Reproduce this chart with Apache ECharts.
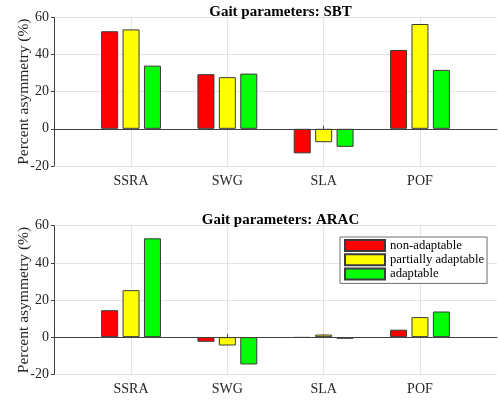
<!DOCTYPE html>
<html><head><meta charset="utf-8">
<script src="https://cdn.jsdelivr.net/npm/echarts@6/dist/echarts.min.js"></script>
<style>html,body{margin:0;padding:0;background:#fff}#c{width:498px;height:401px}</style>
</head><body><div id="c"></div>
<script>
const categories = ['SSRA', 'SWG', 'SLA', 'POF'];
const seriesNames = ['non-adaptable', 'partially adaptable', 'adaptable'];
const titles = ['Gait parameters: SBT', 'Gait parameters: ARAC'];
const yTicks = [-20, 0, 20, 40, 60];
// SBT values
const sbtNonAdaptable = [52.5, 29.4, -13.2, 42.4];
const sbtPartially = [53.5, 27.8, -7.2, 56.4];
const sbtAdaptable = [34.0, 29.7, -9.7, 31.7];
// ARAC values
const aracNonAdaptable = [14.5, -2.5, -0.3, 4.0];
const aracPartially = [25.3, -4.5, 1.4, 10.8];
const aracAdaptable = [53.2, -14.7, -0.9, 13.8];

const colors = ['#ff0000', '#ffff00', '#00ff00'];
const panels = [[sbtNonAdaptable, sbtPartially, sbtAdaptable], [aracNonAdaptable, aracPartially, aracAdaptable]];
const FONT = '"Liberation Serif", "Times New Roman", serif';
const TXT = '#262626';
const catPos = categories.map((c, i) => i + 1);

const grids = [
  { left: 54, right: 1, top: 17.3, height: 148.7, outerBoundsMode: 'none', containLabel: false },
  { left: 54, right: 1, top: 225.7, height: 148.6, outerBoundsMode: 'none', containLabel: false }
];
const xAxes = [], yAxes = [], series = [], titleArr = [];
grids.forEach((g, gi) => {
  xAxes.push({
    type: 'value', gridIndex: gi, min: 0.2, max: 4.8,
    axisLine: { show: true, lineStyle: { color: '#404040', width: 1 } },
    axisTick: { show: true, inside: true, length: 3, customValues: catPos, lineStyle: { color: '#404040' } },
    axisLabel: { customValues: catPos, formatter: v => categories[Math.round(v) - 1] || '',
      fontFamily: FONT, fontSize: 14, color: TXT, margin: 8 },
    splitLine: { show: true, lineStyle: { color: '#e3e3e3', width: 1 } }
  });
  yAxes.push({
    type: 'value', gridIndex: gi, min: yTicks[0], max: yTicks[yTicks.length - 1], interval: 20,
    name: 'Percent asymmetry (%)', nameLocation: 'middle', nameGap: 22, nameMoveOverlap: false,
    nameTextStyle: { fontFamily: FONT, fontSize: 15.5, color: TXT },
    axisLine: { show: true, lineStyle: { color: '#404040', width: 1 } },
    axisTick: { show: true, length: 3, lineStyle: { color: '#404040' } },
    axisLabel: { fontFamily: FONT, fontSize: 14, color: TXT, margin: 5 },
    splitLine: { show: true, lineStyle: { color: '#e3e3e3', width: 1 } }
  });
  titleArr.push({
    text: titles[gi], left: 275.5, textAlign: 'center', top: gi === 0 ? 0 : 208,
    textStyle: { fontFamily: FONT, fontSize: 15, fontWeight: 'bold', color: '#000' }
  });
  panels[gi].forEach((vals, si) => {
    const s = {
      type: 'bar', name: seriesNames[si], xAxisIndex: gi, yAxisIndex: gi,
      data: vals.map((v, i) => [catPos[i], v]),
      barWidth: 17, barGap: '26%',
      itemStyle: { color: colors[si], borderColor: '#3a3a3a', borderWidth: 1 },
      emphasis: { disabled: true }, animation: false
    };
    if (si === 0) {
      s.markLine = { silent: true, symbol: 'none', label: { show: false },
        lineStyle: { color: '#404040', width: 1, type: 'solid' },
        data: [{ yAxis: 0 }] };
    }
    series.push(s);
  });
});

const chart = echarts.init(document.getElementById('c'), null, { renderer: 'canvas' });
chart.setOption({
  animation: false,
  backgroundColor: '#fff',
  title: titleArr,
  grid: grids,
  xAxis: xAxes,
  yAxis: yAxes,
  legend: {
    data: seriesNames, orient: 'vertical', left: 340, top: 237,
    padding: [2, 3, 3, 4],
    icon: 'rect',
    itemWidth: 40, itemHeight: 11, itemGap: 1.2,
    backgroundColor: '#fff', borderColor: '#6e6e6e', borderWidth: 1,
    textStyle: { fontFamily: FONT, fontSize: 12.7, color: '#000' },
    selectedMode: false
  },
  series: series
});
</script></body></html>
